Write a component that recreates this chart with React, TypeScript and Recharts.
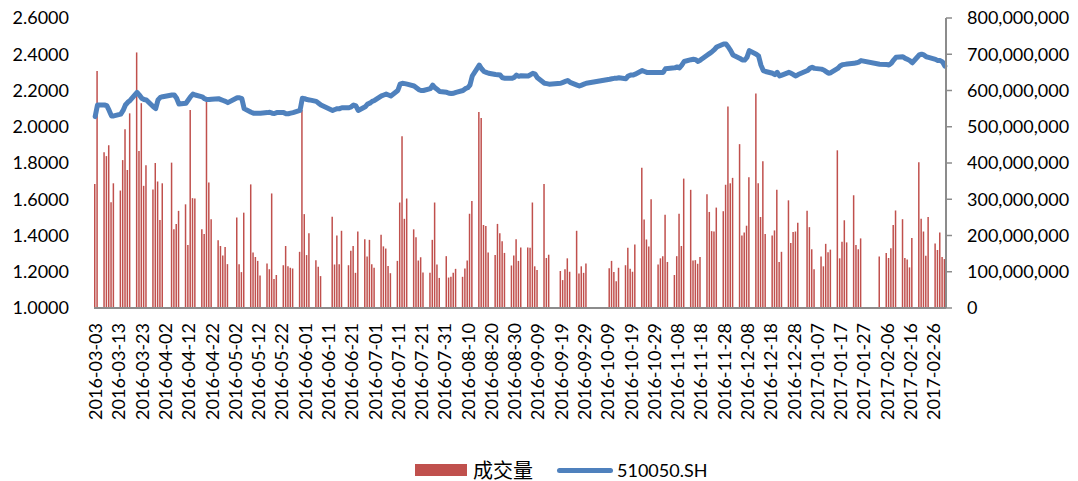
import React from 'react';
import { ComposedChart, Bar, Line, XAxis, YAxis, Legend } from 'recharts';

const _ = null;

// 成交量 (millions of shares), one entry per calendar day, null = no trading
const vol_2016_03 = [342, 654, _, _, 430, 419, 449, 292, 344, _, _, 324, 408, 493, 381, 537, _, _, 705, 433, 565, 337, 394, _, _, 327, 400, 349, 243];
const vol_2016_04 = [344, _, _, _, 401, 217, 232, 268, _, _, 286, 174, 546, 303, 302, _, _, 217, 204, 569, 346, 245, _, _, 187, 171, 145, 168, 121, _];
const vol_2016_05 = [_, _, 250, 121, 99, 263, _, _, 341, 153, 141, 130, 90, _, _, 123, 107, 316, 80, 91, _, _, 118, 171, 115, 111, 109, _, _, 155, 546];
const vol_2016_06 = [259, 146, 206, _, _, 132, 114, 88, _, _, _, _, 252, 120, 200, 121, 213, _, _, 118, 158, 171, 97, 211, _, _, 190, 142, 188, 121];
const vol_2016_07 = [111, _, _, 202, 170, 164, 116, 96, _, _, 130, 291, 474, 246, 302, _, _, 217, 195, 131, 140, 98, _, _, 97, 188, 291, 120, 83, _, _];
const vol_2016_08 = [143, 84, 86, 97, 108, _, _, 86, 109, 131, 260, 295, _, _, 541, 524, 229, 226, 153, _, _, 146, 232, 206, 184, 152, _, _, 117, 145, 190];
const vol_2016_09 = [130, 167, _, _, 167, 166, 291, 115, 105, _, _, 342, 138, 147, _, _, _, _, 102, 77, 107, 137, 100, _, _, 213, 95, 115, 97, 123];
const vol_2016_10 = [_, _, _, _, _, _, _, _, _, 110, 130, 99, 74, 111, _, _, 118, 166, 108, 100, 175, _, _, 387, 244, 189, 170, 300, _, _, 120];
const vol_2016_11 = [137, 143, 257, 127, _, _, 91, 143, 260, 171, 357, _, _, 326, 131, 132, 122, 141, _, _, 314, 265, 212, 211, 277, _, _, 267, 340, 556];
const vol_2016_12 = [344, 359, _, _, 452, 200, 208, 227, 361, _, _, 592, 344, 251, 405, 204, _, _, 200, 214, 326, 127, 155, _, _, 297, 179, 210, 211, 235, _];
const vol_2017_01 = [_, _, 268, 223, 162, 107, _, _, 142, 115, 177, 154, 161, _, _, 435, 137, 183, 242, 181, _, _, 311, 174, 162, 192, _, _, _, _, _];
const vol_2017_02 = [_, _, 142, _, _, 152, 138, 165, 229, 269, _, _, 245, 138, 134, 112, 193, _, _, 402, 246, 211, 144, 251, _, _, 178, 160];
const vol_2017_03 = [208, 141, 135];

// 510050.SH close price
const px_2016_03 = [2.056, 2.12, _, _, 2.12, 2.116, 2.09, 2.06, 2.06, _, _, 2.07, 2.09, 2.12, 2.135, 2.145, _, _, 2.19, 2.175, 2.157, 2.15, 2.148, _, _, 2.11, 2.1, 2.148, 2.162];
const px_2016_04 = [2.166, _, _, _, 2.175, 2.175, 2.157, 2.125, _, _, 2.13, 2.148, 2.166, 2.18, 2.175, _, _, 2.165, 2.155, 2.15, 2.15, 2.152, _, _, 2.155, 2.15, 2.145, 2.14, 2.133, _];
const px_2016_05 = [_, _, 2.16, 2.16, 2.155, 2.1, _, _, 2.08, 2.075, 2.075, 2.075, 2.075, _, _, 2.078, 2.08, 2.075, 2.073, 2.078, _, _, 2.078, 2.072, 2.072, 2.075, 2.078, _, _, 2.09, 2.157];
const px_2016_06 = [2.155, 2.15, 2.148, _, _, 2.14, 2.13, 2.12, _, _, _, _, 2.09, 2.095, 2.1, 2.1, 2.105, _, _, 2.105, 2.11, 2.12, 2.115, 2.09, _, _, 2.11, 2.125, 2.13, 2.14];
const px_2016_07 = [2.145, _, _, 2.17, 2.175, 2.18, 2.175, 2.17, _, _, 2.2, 2.235, 2.24, 2.238, 2.235, _, _, 2.225, 2.215, 2.205, 2.2, 2.2, _, _, 2.21, 2.23, 2.215, 2.205, 2.195, _, _];
const px_2016_08 = [2.19, 2.185, 2.183, 2.185, 2.19, _, _, 2.2, 2.21, 2.215, 2.23, 2.28, _, _, 2.34, 2.32, 2.305, 2.3, 2.295, _, _, 2.288, 2.287, 2.285, 2.27, 2.268, _, _, 2.267, 2.272, 2.285];
const px_2016_09 = [2.278, 2.282, _, _, 2.28, 2.287, 2.295, 2.29, 2.27, _, _, 2.24, 2.238, 2.235, _, _, _, _, 2.24, 2.245, 2.25, 2.255, 2.245, _, _, 2.23, 2.225, 2.23, 2.235, 2.24];
const px_2016_10 = [_, _, _, _, _, _, _, _, _, 2.262, 2.265, 2.267, 2.268, 2.27, _, _, 2.265, 2.28, 2.285, 2.285, 2.29, _, _, 2.31, 2.305, 2.3, 2.3, 2.3, _, _, 2.3];
const px_2016_11 = [2.3, 2.3, 2.32, 2.322, _, _, 2.325, 2.33, 2.325, 2.34, 2.36, _, _, 2.37, 2.372, 2.37, 2.36, 2.368, _, _, 2.396, 2.405, 2.414, 2.425, 2.44, _, _, 2.457, 2.457, 2.44];
const px_2016_12 = [2.42, 2.396, _, _, 2.377, 2.368, 2.368, 2.383, 2.42, _, _, 2.4, 2.39, 2.34, 2.31, 2.305, _, _, 2.295, 2.287, 2.3, 2.28, 2.285, _, _, 2.3, 2.295, 2.287, 2.28, 2.288, _];
const px_2017_01 = [_, _, 2.31, 2.322, 2.328, 2.322, _, _, 2.318, 2.313, 2.304, 2.295, 2.298, _, _, 2.322, 2.335, 2.342, 2.344, 2.346, _, _, 2.35, 2.353, 2.357, 2.365, _, _, _, _, _];
const px_2017_02 = [_, _, 2.345, _, _, 2.343, 2.341, 2.35, 2.368, 2.383, _, _, 2.386, 2.377, 2.372, 2.365, 2.353, _, _, 2.396, 2.4, 2.396, 2.386, 2.383, _, _, 2.372, 2.365];
const px_2017_03 = [2.365, 2.358, 2.335];

const months = [
  { ym: '2016-03', first: 3, vol: vol_2016_03, px: px_2016_03 },
  { ym: '2016-04', first: 1, vol: vol_2016_04, px: px_2016_04 },
  { ym: '2016-05', first: 1, vol: vol_2016_05, px: px_2016_05 },
  { ym: '2016-06', first: 1, vol: vol_2016_06, px: px_2016_06 },
  { ym: '2016-07', first: 1, vol: vol_2016_07, px: px_2016_07 },
  { ym: '2016-08', first: 1, vol: vol_2016_08, px: px_2016_08 },
  { ym: '2016-09', first: 1, vol: vol_2016_09, px: px_2016_09 },
  { ym: '2016-10', first: 1, vol: vol_2016_10, px: px_2016_10 },
  { ym: '2016-11', first: 1, vol: vol_2016_11, px: px_2016_11 },
  { ym: '2016-12', first: 1, vol: vol_2016_12, px: px_2016_12 },
  { ym: '2017-01', first: 1, vol: vol_2017_01, px: px_2017_01 },
  { ym: '2017-02', first: 1, vol: vol_2017_02, px: px_2017_02 },
  { ym: '2017-03', first: 1, vol: vol_2017_03, px: px_2017_03 },
];

const priceTicks = [1.0, 1.2, 1.4, 1.6, 1.8, 2.0, 2.2, 2.4, 2.6];
const volumeTicks = [0, 100000000, 200000000, 300000000, 400000000, 500000000, 600000000, 700000000, 800000000];

const data = months.flatMap((m) =>
  m.vol.map((v, i) => ({
    date: `${m.ym}-${String(m.first + i).padStart(2, '0')}`,
    volume: v == null ? null : v * 1000000,
    price: m.px[i],
  }))
);

const FONT = 'Lato, "Noto Sans CJK SC", sans-serif';

const DateTick = (props: any) => {
  const { x, y, payload } = props;
  return (
    <text
      x={x}
      y={y}
      transform={`rotate(-90, ${x}, ${y})`}
      textAnchor="end"
      dominantBaseline="central"
      fontSize={18}
      fontFamily={FONT}
      fill="#000"
    >
      {payload.value}
    </text>
  );
};

const LegendContent = () => (
  <div style={{ position: 'relative', height: 53, fontFamily: FONT }}>
    <div
      style={{
        position: 'absolute',
        left: 415,
        top: 32,
        height: 20,
        display: 'flex',
        alignItems: 'center',
        whiteSpace: 'nowrap',
      }}
    >
      <span style={{ display: 'inline-block', width: 52, height: 12, background: '#C0504D' }} />
      <span style={{ marginLeft: 6, fontSize: 20, color: '#000', lineHeight: '20px' }}>成交量</span>
      <span
        style={{
          display: 'inline-block',
          marginLeft: 24,
          width: 56,
          height: 5,
          borderRadius: 3,
          background: '#4F81BD',
        }}
      />
      <span style={{ marginLeft: 4, fontSize: 18, color: '#000', lineHeight: '20px' }}>510050.SH</span>
    </div>
  </div>
);

export default function App() {
  return (
    <div style={{ position: 'absolute', left: 0, top: 0, width: 1078, height: 481, background: '#fff' }}>
      <ComposedChart
        width={1078}
        height={481}
        data={data}
        margin={{ top: 18, right: 0, bottom: 0, left: 0 }}
      >
        <XAxis
          dataKey="date"
          interval={9}
          tick={<DateTick />}
          tickLine={false}
          tickSize={0}
          tickMargin={15}
          height={120}
          axisLine={{ stroke: '#8c8c8c', strokeWidth: 2 }}
        />
        <YAxis
          yAxisId="left"
          orientation="left"
          width={94}
          domain={[1, 2.6]}
          ticks={priceTicks}
          tickFormatter={(v: number) => v.toFixed(4)}
          axisLine={false}
          tickLine={false}
          tickSize={0}
          tickMargin={25}
          tick={{ fontSize: 18, fill: '#000', fontFamily: FONT }}
          allowDataOverflow
        />
        <YAxis
          yAxisId="right"
          orientation="right"
          width={132}
          domain={[0, 800000000]}
          ticks={volumeTicks}
          tickFormatter={(v: number) => v.toLocaleString('en-US')}
          axisLine={{ stroke: '#8c8c8c', strokeWidth: 2 }}
          tickLine={{ stroke: '#8c8c8c', strokeWidth: 1.5 }}
          tickSize={6}
          tickMargin={15}
          tick={{ fontSize: 18, fill: '#000', fontFamily: FONT }}
          allowDataOverflow
        />
        <Legend verticalAlign="bottom" height={53} content={<LegendContent />} />
        <Bar
          yAxisId="right"
          dataKey="volume"
          name="成交量"
          fill="#C0504D"
          barSize={1.5}
          isAnimationActive={false}
        />
        <Line
          yAxisId="left"
          dataKey="price"
          name="510050.SH"
          type="linear"
          stroke="#4F81BD"
          strokeWidth={5}
          strokeLinejoin="round"
          strokeLinecap="round"
          dot={false}
          activeDot={false}
          connectNulls
          isAnimationActive={false}
        />
      </ComposedChart>
    </div>
  );
}
